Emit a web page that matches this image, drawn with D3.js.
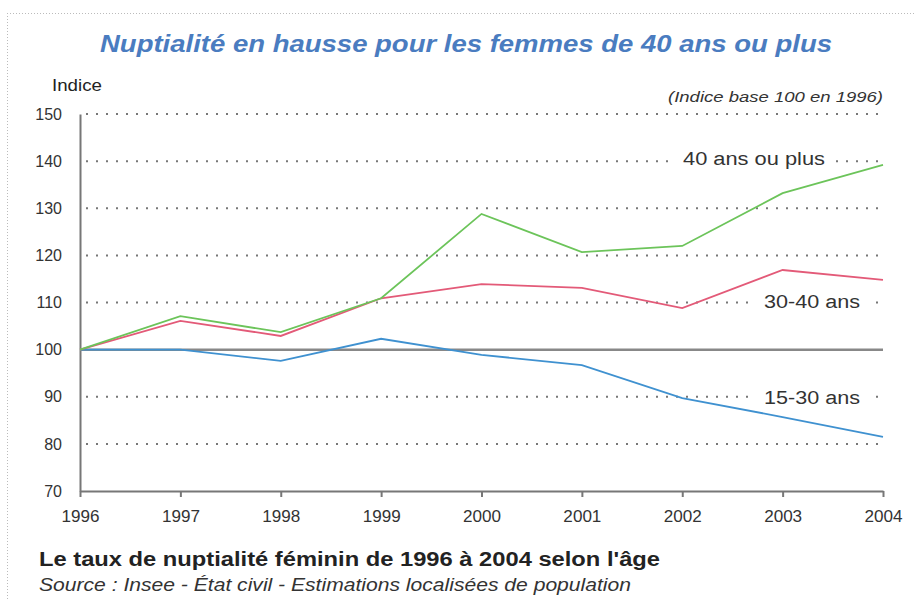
<!DOCTYPE html>
<html><head><meta charset="utf-8">
<script src="https://cdn.jsdelivr.net/npm/d3@7"></script>
<style>
body{margin:0;background:#fff;}
svg{display:block;font-family:"Liberation Sans",Arial,sans-serif;}
</style></head>
<body>
<svg id="c" width="914" height="600"></svg>
<script>
const years = [1996,1997,1998,1999,2000,2001,2002,2003,2004];
const s40plus = [100,107.1,103.7,110.9,128.8,120.7,122.0,133.2,139.2];
const s30_40 = [100,106.1,102.9,110.9,113.9,113.1,108.8,116.9,114.8];
const s15_30 = [100,100.0,97.6,102.3,98.9,96.7,89.7,85.7,81.5];
const seriesNames = ["40 ans ou plus","30-40 ans","15-30 ans"];
const yTicks = [70,80,90,100,110,120,130,140,150];

const series = [
  {name:seriesNames[0], values:s40plus, color:"#6cc45a", lx:754, ly:159, w:142},
  {name:seriesNames[1], values:s30_40, color:"#e35a78", lx:812, ly:302, w:96},
  {name:seriesNames[2], values:s15_30, color:"#3f91d0", lx:812, ly:398, w:96}
];

const svg = d3.select("#c");
const x = d3.scaleLinear().domain([1996,2004]).range([80,883]);
const y = d3.scaleLinear().domain([70,150]).range([491,114]);

// dotted frame
svg.append("line").attr("x1",7).attr("x2",914).attr("y1",13.5).attr("y2",13.5)
  .attr("stroke","#bbb").attr("stroke-width",1).attr("stroke-dasharray","1,2");
svg.append("line").attr("x1",7.5).attr("x2",7.5).attr("y1",13).attr("y2",600)
  .attr("stroke","#bbb").attr("stroke-width",1).attr("stroke-dasharray","1,2");

// title
svg.append("text").attr("x",100).attr("y",52)
  .attr("font-size",23).attr("font-weight","bold").attr("font-style","italic")
  .attr("textLength",732).attr("lengthAdjust","spacingAndGlyphs")
  .attr("fill","#4a7cc0").text("Nuptialité en hausse pour les femmes de 40 ans ou plus");

svg.append("text").attr("x",52).attr("y",91).attr("font-size",17).attr("fill","#222")
  .attr("textLength",50).attr("lengthAdjust","spacingAndGlyphs").text("Indice");
svg.append("text").attr("x",668).attr("y",102).attr("font-size",14)
  .attr("textLength",215).attr("lengthAdjust","spacingAndGlyphs")
  .attr("font-style","italic").attr("fill","#333").text("(Indice base 100 en 1996)");

// gridlines
svg.append("g").selectAll("line").data(yTicks.filter(d=>d!==70 && d!==100)).join("line")
  .attr("x1",x(1996)+6).attr("x2",880).attr("y1",d=>y(d)).attr("y2",d=>y(d))
  .attr("stroke","#777").attr("stroke-width",2).attr("stroke-dasharray","2,8");

// y axis
const ya = svg.append("g").attr("transform",`translate(${x(1996)},0)`)
  .call(d3.axisLeft(y).tickValues(yTicks).tickSize(0).tickPadding(18));
ya.select(".domain").attr("stroke","#777").attr("stroke-width",2);
ya.selectAll("text").attr("font-size",16).attr("fill","#333").attr("font-family","Liberation Sans, Arial, sans-serif");

// x axis
const xa = svg.append("g").attr("transform",`translate(0,${y(70)})`)
  .call(d3.axisBottom(x).tickValues(years).tickFormat(d3.format("d")).tickSize(6).tickSizeOuter(0).tickPadding(14));
xa.select(".domain").attr("stroke","#777").attr("stroke-width",2);
xa.selectAll(".tick line").attr("stroke","#777").attr("stroke-width",2);
xa.selectAll("text").attr("font-size",16).attr("fill","#333").attr("font-family","Liberation Sans, Arial, sans-serif")
  .attr("textLength",38).attr("lengthAdjust","spacingAndGlyphs");

// 100 line
svg.append("line").attr("x1",x(1996)).attr("x2",x(2004)).attr("y1",y(100)).attr("y2",y(100))
  .attr("stroke","#888").attr("stroke-width",2.5);

const line = d3.line().x((d,i)=>x(years[i])).y(d=>y(d));
svg.append("g").selectAll("path").data(series.slice().reverse()).join("path")
  .attr("d",d=>line(d.values)).attr("fill","none").attr("stroke",d=>d.color).attr("stroke-width",1.8);

// labels
const lg = svg.append("g").selectAll("g").data(series).join("g");
lg.each(function(d){
  const g = d3.select(this);
  const t = g.append("text").attr("x",d.lx - d.w/2).attr("y",d.ly+6)
    .attr("font-size",18).attr("fill","#333")
    .attr("textLength",d.w).attr("lengthAdjust","spacingAndGlyphs").text(d.name);
  const b = t.node().getBBox();
  g.insert("rect","text").attr("x",b.x-8).attr("y",b.y).attr("width",b.width+16).attr("height",b.height).attr("fill","#fff");
});

svg.append("text").attr("x",39).attr("y",566).attr("font-size",20).attr("font-weight","bold").attr("fill","#222")
  .attr("textLength",621).attr("lengthAdjust","spacingAndGlyphs")
  .text("Le taux de nuptialité féminin de 1996 à 2004 selon l'âge");
svg.append("text").attr("x",39).attr("y",591).attr("font-size",18).attr("font-style","italic").attr("fill","#333")
  .attr("textLength",592).attr("lengthAdjust","spacingAndGlyphs")
  .text("Source : Insee - État civil - Estimations localisées de population");
</script>
</body></html>
